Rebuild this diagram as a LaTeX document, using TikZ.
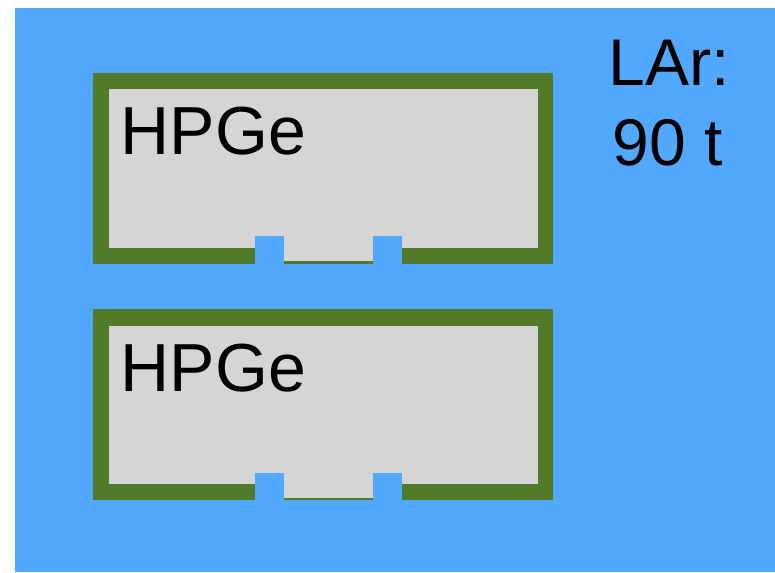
\documentclass[tikz,border=0pt]{standalone}
\usepackage{fontspec}
\setmainfont{Liberation Sans}
\definecolor{larblue}{RGB}{82,168,253}
\definecolor{holdgreen}{RGB}{81,123,41}
\definecolor{hpgegrey}{RGB}{213,213,213}
\usetikzlibrary{positioning}

\begin{document}
\begin{tikzpicture}[x=1pt, y=-1pt,
  lar/.style={fill=larblue},
  holder/.style={fill=holdgreen},
  crystal/.style={fill=hpgegrey},
  lbl/.style={font=\fontsize{66}{79}\selectfont, text=black, inner sep=0pt},
]
  \useasboundingbox (0,0) rectangle (775,572);
  % liquid argon bath
  \fill[lar] (15,8) rectangle (775,572);
  % two detectors in their holders
  \foreach \yo/\name in {0/top, 236.6/bot} {
    \fill[holder] (93,72.7+\yo) rectangle (553,263.5+\yo);
    \fill[crystal] (109,89+\yo) rectangle (538,247.5+\yo);
    \fill[crystal] (284,247+\yo) rectangle (373,261+\yo);
    \fill[lar] (255,236+\yo) rectangle (284,263.5+\yo);
    \fill[lar] (373,236+\yo) rectangle (402,263.5+\yo);
    \node[lbl, font=\fontsize{68}{80}\selectfont, anchor=base west]
      (hpge-\name) at (120.5,155+\yo) {HPGe};
  }
  \node[lbl, anchor=base] (lar1) at (669,86) {LAr:};
  \node[lbl, anchor=base] (lar2) at (668,165) {90 t};
\end{tikzpicture}
\end{document}
